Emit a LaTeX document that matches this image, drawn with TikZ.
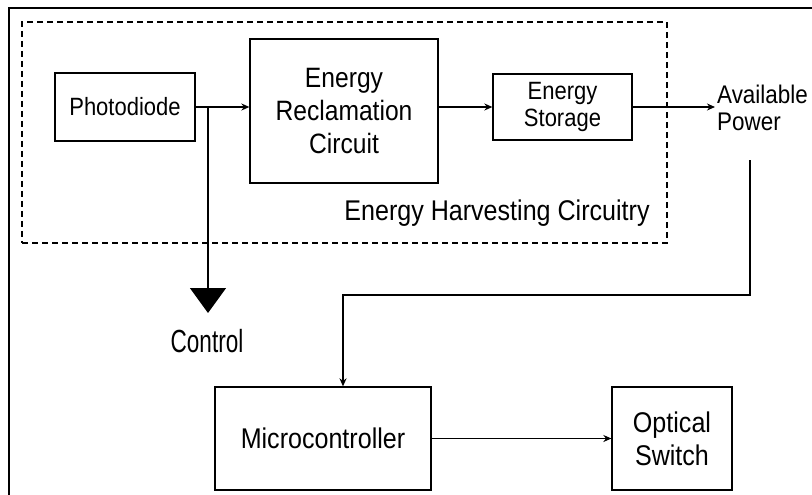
\documentclass[tikz,border=0pt]{standalone}
\usepackage{fontspec}
\setmainfont{Liberation Sans}[FakeStretch=0.88]
\usetikzlibrary{arrows.meta}
\tikzset{
  blk/.style={draw, line width=1.3pt, inner sep=0pt, align=center},
  conn/.style={line width=1.3pt, -{Stealth[length=8pt,width=7pt]}},
  plain/.style={line width=1.3pt},
}
\begin{document}
\begin{tikzpicture}[x=1pt,y=-1pt]
\useasboundingbox (0,0) rectangle (812,495);
% outer frame (only left and top visible)
\draw[line width=2.5pt] (9,495) -- (9,8) -- (812,8);
% dashed harvesting box
\node[draw, dash pattern=on 6pt off 4pt, line width=1.2pt, minimum width=645pt, minimum height=221pt, inner sep=0pt] (hv) at (344.5,132.5) {};
\node[font=\fontsize{28.5}{32}\selectfont] (hvl) at (497,213) {Energy Harvesting Circuitry};
% blocks
\node[blk, minimum width=140pt, minimum height=68pt, font=\fontsize{25}{28}\selectfont] (pd) at (125,107) {Photodiode};
\node[blk, minimum width=188pt, minimum height=144pt, font=\fontsize{28}{33}\selectfont] (erc) at (344,111) {Energy\\Reclamation\\Circuit};
\node[blk, minimum width=139pt, minimum height=66pt, font=\fontsize{25}{27}\selectfont] (es) at (562.5,107) {Energy\\Storage};
\node[align=left, anchor=west, inner sep=2pt, font=\fontsize{25.5}{27}\selectfont] (av) at (715,108) {Available\\Power};
\node[blk, minimum width=216pt, minimum height=103pt, font=\fontsize{28.5}{33}\selectfont] (mc) at (323,438.5) {Microcontroller};
\node[blk, minimum width=120pt, minimum height=103pt, font=\fontsize{28.5}{33}\selectfont] (os) at (672,438.5) {Optical\\Switch};
\node[font=\fontsize{32}{34}\selectfont] (ctrl) at (207,341) {\scalebox{0.8}[1]{Control}};
% coordinates
\coordinate (br) at (208,107);
\coordinate (ctip) at (208,313);
\coordinate (pw) at (750,160);
\coordinate (turn) at (343,295);
% connectors
\draw[conn] (pd.east) -- (erc.west |- pd.east);
\draw[conn] (erc.east |- es.west) -- (es.west);
\draw[conn] (es.east) -- (es.east -| av.west);
\draw[plain, -{Triangle[length=25pt,width=36pt]}] (br) -- (ctip);
\draw[conn] (pw) |- (turn) -- (turn |- mc.north);
\draw[conn] (mc.east) -- (os.west);
\end{tikzpicture}
\end{document}
